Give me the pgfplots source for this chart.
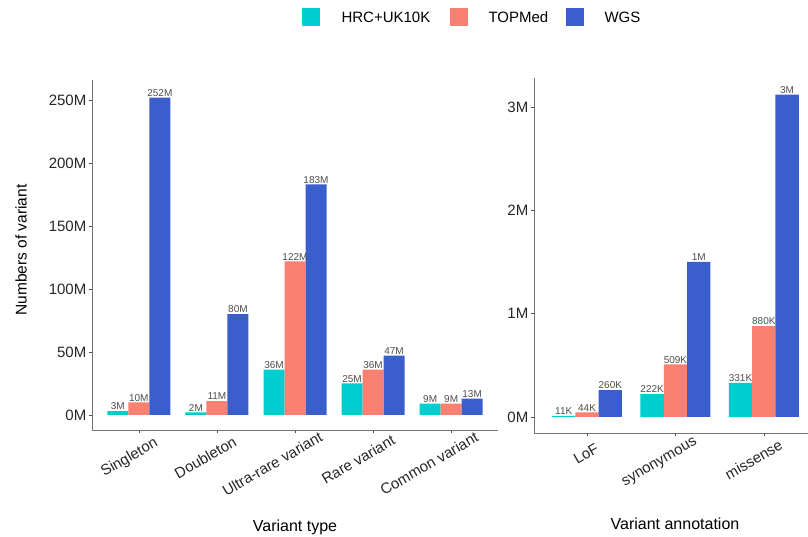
\documentclass[border=0pt]{standalone}
\usepackage{pgfplots}
\pgfplotsset{compat=1.18}
\usepackage{pgfplotstable}
\usepackage{fontspec}
\setmainfont{Liberation Sans}
\definecolor{cHRC}{RGB}{0,205,205}
\definecolor{cTOP}{RGB}{250,128,114}
\definecolor{cWGS}{RGB}{58,94,204}
\definecolor{lblgray}{RGB}{77,77,77}
\newlength\tlw
\newcommand\tl[1]{\settowidth{\tlw}{#1}#1\hspace*{-0.21\tlw}}

\pgfplotstableread{
x y lab
0 3 3M
1 2 2M
2 36 36M
3 25 25M
4 9 9M
}\LHRC
\pgfplotstableread{
x y lab
0 10 10M
1 11 11M
2 122 122M
3 36 36M
4 9 9M
}\LTOP
\pgfplotstableread{
x y lab
0 252 252M
1 80 80M
2 183 183M
3 47 47M
4 13 13M
}\LWGS
\pgfplotstableread{
x y lab
0 0.011 11K
1 0.222 222K
2 0.331 331K
}\RHRC
\pgfplotstableread{
x y lab
0 0.044 44K
1 0.509 509K
2 0.880 880K
}\RTOP
\pgfplotstableread{
x y lab
0 0.260 260K
1 1.500 1M
2 3.120 3M
}\RWGS

\pgfplotsset{
  barbase/.style={
    scale only axis,
    ybar=0pt,
    axis x line*=bottom,
    axis y line*=left,
    axis line style={draw=black!55, line width=0.6pt},
    tick align=outside,
    major tick length=3.5pt,
    tick style={draw=black!70, line width=0.6pt},
    xtick=data,
    ytick pos=left, xtick pos=bottom,
    yticklabel style={font=\fontsize{15}{17}\selectfont, text=black!85, inner sep=2pt},
    xticklabel style={font=\fontsize{15}{17}\selectfont, text=black!85, xshift=3pt, yshift=-9pt, rotate=30, anchor=north east, inner sep=0pt},
    point meta=explicit symbolic,
    nodes near coords,
    every node near coord/.append style={font=\fontsize{10}{11}\selectfont, text=lblgray, inner sep=1pt, anchor=south},
    enlarge x limits=false,
    enlarge y limits=false,
    clip=false,
  }
}

\begin{document}
\begin{tikzpicture}[x=1pt,y=1pt]
\path[use as bounding box] (0,0) rectangle (808,537);

% left panel
\begin{axis}[barbase,
  at={(92pt,107pt)}, anchor=south west,
  width=406pt, height=350pt,
  xmin=-0.6, xmax=4.6,
  ymin=-12, ymax=266,
  bar width=21pt,
  ytick={0,50,100,150,200,250},
  yticklabels={0M,50M,100M,150M,200M,250M},
  xticklabels={\tl{Singleton},\tl{Doubleton},\tl{Ultra-rare variant},\tl{Rare variant},\tl{Common variant}},
]
\addplot[fill=cHRC, draw=none] table[x=x,y=y,meta=lab] {\LHRC};
\addplot[fill=cTOP, draw=none] table[x=x,y=y,meta=lab] {\LTOP};
\addplot[fill=cWGS, draw=none] table[x=x,y=y,meta=lab] {\LWGS};
\end{axis}

% right panel
\begin{axis}[barbase,
  at={(534pt,104pt)}, anchor=south west,
  width=274pt, height=355pt,
  xmin=-0.6, xmax=2.5,
  ymin=-0.155, ymax=3.28,
  bar width=23.3pt,
  ytick={0,1,2,3},
  yticklabels={0M,1M,2M,3M},
  xticklabels={\tl{LoF},\tl{synonymous},\tl{missense}},
]
\addplot[fill=cHRC, draw=none] table[x=x,y=y,meta=lab] {\RHRC};
\addplot[fill=cTOP, draw=none] table[x=x,y=y,meta=lab] {\RTOP};
\addplot[fill=cWGS, draw=none] table[x=x,y=y,meta=lab] {\RWGS};
\end{axis}

% axis titles
\node[rotate=90, font=\fontsize{15.5}{18}\selectfont] at (21,287) {Numbers of variant};
\node[font=\fontsize{16}{18}\selectfont] at (295,10) {Variant type};
\node[font=\fontsize{16}{18}\selectfont] at (675,13) {Variant annotation};

% legend
\fill[cHRC] (302,511) rectangle (320,529);
\node[anchor=west, font=\fontsize{15}{17}\selectfont] at (338,520) {HRC+UK10K};
\fill[cTOP] (450,511) rectangle (468,529);
\node[anchor=west, font=\fontsize{15}{17}\selectfont] at (485,520) {TOPMed};
\fill[cWGS] (566,511) rectangle (584,529);
\node[anchor=west, font=\fontsize{15}{17}\selectfont] at (601,520) {WGS};
\end{tikzpicture}
\end{document}
